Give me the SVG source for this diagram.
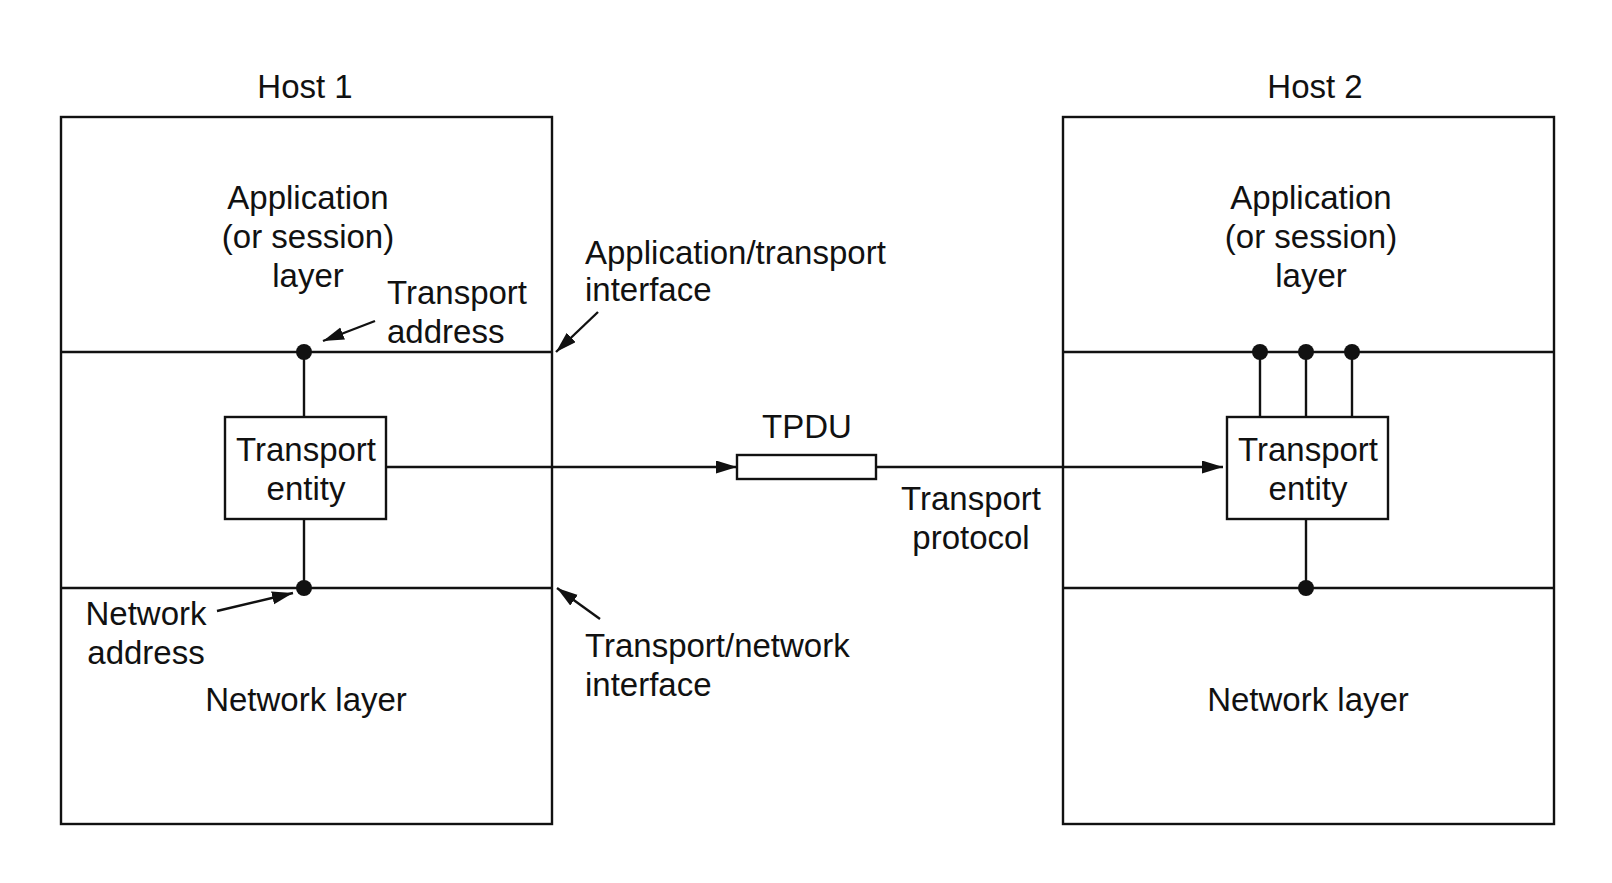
<svg xmlns="http://www.w3.org/2000/svg" width="1612" height="883" viewBox="0 0 1612 883">
<style>
  text { font-family: "Liberation Sans", Arial, Helvetica, sans-serif; font-size: 33px; fill: #111; }
  .c { text-anchor: middle; }
  .s { text-anchor: start; }
  .box { fill: #fff; stroke: #111; stroke-width: 2.4; }
  .ln { stroke: #111; stroke-width: 2.4; fill: none; }
  .dot { fill: #111; }
</style>
<defs>
  <marker id="arr" markerUnits="userSpaceOnUse" markerWidth="23" markerHeight="14" refX="21" refY="6.5" orient="auto">
    <path d="M0,0 L21,6.5 L0,13 z" fill="#111"/>
  </marker>
</defs>
<rect width="1612" height="883" fill="#fff"/>

<g id="host1">
  <rect class="box" x="61" y="117" width="491" height="707"/>
  <line class="ln" x1="61" y1="352" x2="552" y2="352"/>
  <line class="ln" x1="61" y1="588" x2="552" y2="588"/>
  <text class="c" x="305" y="98">Host 1</text>
  <text class="c" x="308" y="209">Application</text>
  <text class="c" x="308" y="248">(or session)</text>
  <text class="c" x="308" y="287">layer</text>
  <text class="c" x="306" y="711">Network layer</text>
</g>

<g id="host2">
  <rect class="box" x="1063" y="117" width="491" height="707"/>
  <line class="ln" x1="1063" y1="352" x2="1554" y2="352"/>
  <line class="ln" x1="1063" y1="588" x2="1554" y2="588"/>
  <text class="c" x="1315" y="98">Host 2</text>
  <text class="c" x="1311" y="209">Application</text>
  <text class="c" x="1311" y="248">(or session)</text>
  <text class="c" x="1311" y="287">layer</text>
  <text class="c" x="1308" y="711">Network layer</text>
</g>

<g id="connectors">
  <line class="ln" x1="304" y1="352" x2="304" y2="417"/>
  <line class="ln" x1="304" y1="519" x2="304" y2="588"/>
  <line class="ln" x1="1260" y1="352" x2="1260" y2="417"/>
  <line class="ln" x1="1306" y1="352" x2="1306" y2="417"/>
  <line class="ln" x1="1352" y1="352" x2="1352" y2="417"/>
  <line class="ln" x1="1306" y1="519" x2="1306" y2="588"/>
  <line class="ln" x1="386" y1="467" x2="737" y2="467" marker-end="url(#arr)"/>
  <line class="ln" x1="876" y1="467" x2="1223" y2="467" marker-end="url(#arr)"/>
  <line class="ln" x1="375" y1="321" x2="323" y2="341" marker-end="url(#arr)"/>
  <line class="ln" x1="598" y1="312" x2="556" y2="352" marker-end="url(#arr)"/>
  <line class="ln" x1="217" y1="611" x2="293" y2="593" marker-end="url(#arr)"/>
  <line class="ln" x1="600" y1="619" x2="557" y2="588" marker-end="url(#arr)"/>
</g>

<g id="dots">
  <circle class="dot" cx="304" cy="352" r="8"/>
  <circle class="dot" cx="304" cy="588" r="8"/>
  <circle class="dot" cx="1260" cy="352" r="8"/>
  <circle class="dot" cx="1306" cy="352" r="8"/>
  <circle class="dot" cx="1352" cy="352" r="8"/>
  <circle class="dot" cx="1306" cy="588" r="8"/>
</g>

<g id="entity1">
  <rect class="box" x="225" y="417" width="161" height="102"/>
  <text class="c" x="306" y="461">Transport</text>
  <text class="c" x="306" y="500">entity</text>
</g>

<g id="entity2">
  <rect class="box" x="1227" y="417" width="161" height="102"/>
  <text class="c" x="1308" y="461">Transport</text>
  <text class="c" x="1308" y="500">entity</text>
</g>

<g id="tpdu">
  <rect class="box" x="737" y="455" width="139" height="24"/>
  <text class="c" x="807" y="438">TPDU</text>
</g>

<g id="labels">
  <text class="s" x="387" y="304">Transport</text>
  <text class="s" x="387" y="343">address</text>
  <text class="s" x="585" y="264">Application/transport</text>
  <text class="s" x="585" y="301">interface</text>
  <text class="c" x="971" y="510">Transport</text>
  <text class="c" x="971" y="549">protocol</text>
  <text class="c" x="146" y="625">Network</text>
  <text class="c" x="146" y="664">address</text>
  <text class="s" x="585" y="657">Transport/network</text>
  <text class="s" x="585" y="696">interface</text>
</g>
</svg>
